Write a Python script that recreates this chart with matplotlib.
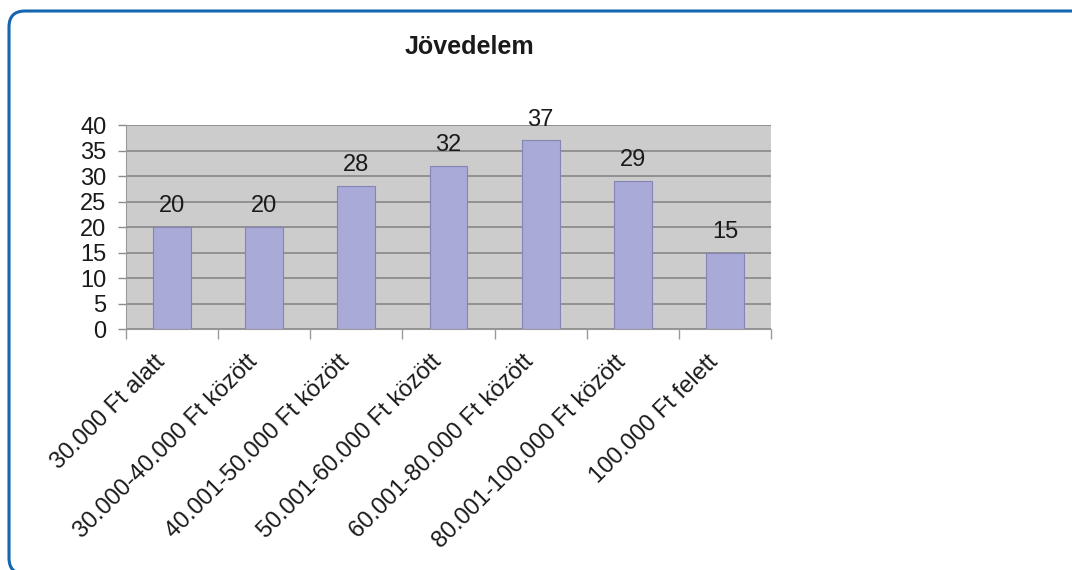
import numpy as np
import matplotlib.pyplot as plt
from matplotlib.patches import FancyBboxPatch
from matplotlib.transforms import IdentityTransform, ScaledTranslation

plt.rcParams['font.family'] = ['Liberation Sans', 'DejaVu Sans']

# data
categories = ['30.000 Ft alatt', '30.000-40.000 Ft között', '40.001-50.000 Ft között',
              '50.001-60.000 Ft között', '60.001-80.000 Ft között', '80.001-100.000 Ft között',
              '100.000 Ft felett']
values = [20, 20, 28, 32, 37, 29, 15]
yticks = [0, 5, 10, 15, 20, 25, 30, 35, 40]

fig = plt.figure(figsize=(10.72, 5.70), dpi=100)
ax = fig.add_axes([0.1175, 0.4228, 0.6017, 0.3579])

x = np.arange(len(categories))
ax.set_facecolor('#cccccc')
ax.bar(x, values, width=0.41, color='#aaaad8', edgecolor='#8585b5', linewidth=0.8, zorder=3)

# value labels above bars
for xi, v in zip(x, values):
  ax.annotate(str(v), (xi, v), xytext=(0, 7), textcoords='offset points',
              ha='center', va='bottom', fontsize=17, color='#1a1a1a', annotation_clip=False)

ax.set_xlim(-0.5, len(categories) - 0.5)
ax.set_ylim(0, 40)
ax.set_yticks(yticks)
ax.set_yticklabels([str(t) for t in yticks], fontsize=17, color='#1a1a1a')
ax.yaxis.grid(True, color='#8c8c8c', linewidth=1.3, zorder=1)
ax.set_axisbelow(True)
ax.tick_params(axis='y', length=6, color='#8c8c8c', width=1.0, pad=8)

# x ticks at category boundaries, labels at centers
ax.set_xticks(x)
ax.set_xticklabels(categories, rotation=45, ha='right', rotation_mode='anchor',
                   fontsize=17, color='#1a1a1a')
ax.tick_params(axis='x', which='major', length=0, pad=10)
ax.set_xticks(np.arange(len(categories) + 1) - 0.5, minor=True)
ax.tick_params(axis='x', which='minor', length=7, color='#9a9a9a', width=1.0)
shift = ScaledTranslation(-0.18, -0.08, fig.dpi_scale_trans)
for lab in ax.get_xticklabels():
  lab.set_transform(lab.get_transform() + shift)

for s in ['top', 'right']:
  ax.spines[s].set_visible(False)
ax.spines['left'].set_color('#9a9a9a')
ax.spines['bottom'].set_color('#9a9a9a')

fig.text(0.438, 0.9175, 'Jövedelem', ha='center', va='center', fontsize=18, fontweight='bold',
         color='#1a1a1a')

# blue rounded frame
frame = FancyBboxPatch((9, -4), 1100, 563, boxstyle='round,pad=0,rounding_size=16',
                       transform=IdentityTransform(), fill=False, edgecolor='#1565b0',
                       linewidth=2.2)
fig.patches.append(frame)

fig.savefig('out.png', dpi=100)
